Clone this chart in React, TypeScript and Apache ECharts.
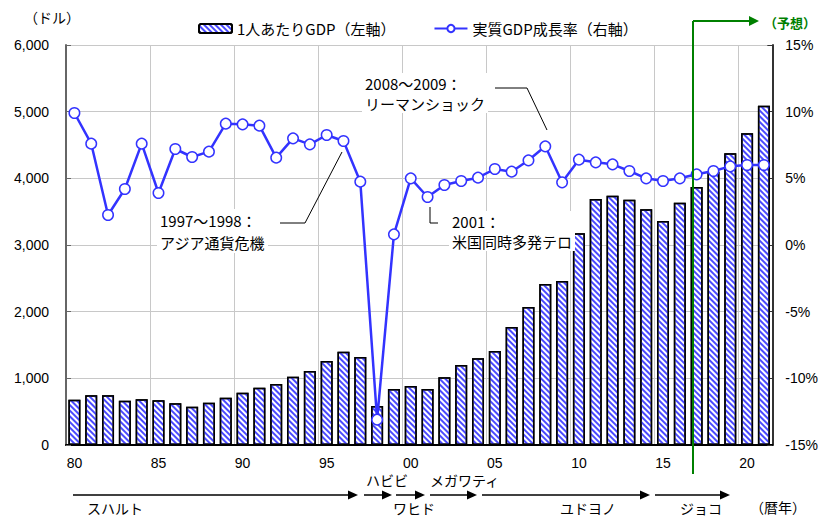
import React, { useEffect, useRef } from "react";
import * as echarts from "echarts";

const years: number[] = [];
for (let y = 1980; y <= 2021; y++) years.push(y);

const gdpPerCapita = [
  680, 745, 745, 665, 685, 670, 625, 575, 635, 710,
  785, 860, 915, 1025, 1110, 1260, 1400, 1320, 585, 840,
  885, 840, 1015, 1200, 1300, 1410, 1770, 2070, 2415, 2460,
  3175, 3690, 3740, 3680, 3535, 3360, 3635, 3870, 4100, 4375,
  4675, 5090,
];

const growthRate = [
  9.9, 7.6, 2.25, 4.2, 7.6, 3.9, 7.2, 6.6, 7.0, 9.1,
  9.05, 8.95, 6.55, 8.0, 7.55, 8.25, 7.8, 4.75, -13.1, 0.8,
  5.0, 3.6, 4.5, 4.8, 5.05, 5.7, 5.5, 6.35, 7.4, 4.7,
  6.4, 6.2, 6.05, 5.55, 5.0, 4.8, 5.0, 5.3, 5.55, 5.9,
  6.0, 6.0,
];

const leftTicks = [0, 6000, 1000];
const rightTicks = [-15, 15, 5];

const barName = "1人あたりGDP（左軸）";
const lineName = "実質GDP成長率（右軸）";

const JP = "'Noto Sans CJK JP', sans-serif";
const NUM = "'Liberation Sans', Arial, sans-serif";

function arrow(x1: number, x2: number, y: number) {
  return [
    { type: "line", shape: { x1, y1: y, x2: x2 - 9, y2: y }, style: { stroke: "#000", lineWidth: 1.5 } },
    { type: "polygon", shape: { points: [[x2 - 10, y - 4.5], [x2, y], [x2 - 10, y + 4.5]] }, style: { fill: "#000" } },
  ];
}

function label(text: string, x: number, y: number, extra: any = {}) {
  return {
    type: "text",
    x,
    y,
    style: { text, font: `14px ${JP}`, fill: "#000", verticalAlign: "middle", ...extra },
  };
}

export default function App() {
  const ref = useRef<HTMLDivElement>(null);
  useEffect(() => {
    if (!ref.current) return;
    const chart = echarts.init(ref.current, undefined, { renderer: "svg" });
    const option: any = {
      animation: false,
      backgroundColor: "#fff",
      legend: {
        left: 193,
        top: 16,
        itemGap: 38,
        itemWidth: 33,
        itemHeight: 9,
        textStyle: { fontSize: 15, fontFamily: JP, color: "#000" },
        data: [barName, lineName],
      },
      grid: { left: 66, right: 44, top: 45, bottom: 76 },
      xAxis: {
        type: "category",
        data: years.map(String),
        boundaryGap: true,
        axisLine: { lineStyle: { color: "#000", width: 2 } },
        axisTick: { show: false, interval: 4 },
        axisLabel: {
          interval: 4,
          margin: 11,
          fontSize: 14,
          fontFamily: NUM,
          color: "#000",
          formatter: (v: string) => v.slice(2),
        },
        splitLine: { show: true, interval: 4, lineStyle: { color: "#c8c8c8", width: 1 } },
      },
      yAxis: [
        {
          type: "value",
          min: leftTicks[0],
          max: leftTicks[1],
          interval: leftTicks[2],
          axisLine: { show: true, lineStyle: { color: "#666", width: 2 } },
          axisTick: { show: true, inside: true, length: 5, lineStyle: { color: "#666" } },
          axisLabel: {
            margin: 17,
            fontSize: 14,
            fontFamily: NUM,
            color: "#000",
            formatter: (v: number) => v.toLocaleString("en-US"),
          },
          splitLine: { show: true, lineStyle: { color: "#c8c8c8", width: 1 } },
        },
        {
          type: "value",
          min: rightTicks[0],
          max: rightTicks[1],
          interval: rightTicks[2],
          position: "right",
          axisLine: { show: true, lineStyle: { color: "#333", width: 2 } },
          axisTick: { show: true, inside: true, length: 5, lineStyle: { color: "#333" } },
          axisLabel: {
            margin: 13,
            fontSize: 14,
            fontFamily: NUM,
            color: "#000",
            formatter: (v: number) => `${v}%`,
          },
          splitLine: { show: false },
        },
      ],
      series: [
        {
          name: barName,
          type: "bar",
          yAxisIndex: 0,
          data: gdpPerCapita,
          barWidth: 12,
          itemStyle: {
            color: "#ffffff",
            borderColor: "#000",
            borderWidth: 1.5,
            decal: {
              symbol: "rect",
              color: "#4a4aff",
              dashArrayX: [1, 0],
              dashArrayY: [1.5, 1.9],
              rotation: Math.PI / 4,
            },
          },
          z: 2,
        },
        {
          name: lineName,
          type: "line",
          yAxisIndex: 1,
          data: growthRate,
          symbol: "circle",
          symbolSize: 10.5,
          lineStyle: { color: "#3333ff", width: 2.5 },
          itemStyle: { color: "#fff", borderColor: "#3333ff", borderWidth: 1.5 },
          z: 5,
        },
      ],
      graphic: [
        label("（ドル）", 24, 17),
        // forecast marker
        { type: "line", shape: { x1: 693, y1: 21, x2: 693, y2: 474 }, style: { stroke: "#008000", lineWidth: 2 }, z: 10 },
        { type: "line", shape: { x1: 693, y1: 21, x2: 750, y2: 21 }, style: { stroke: "#008000", lineWidth: 2 }, z: 10 },
        { type: "polygon", shape: { points: [[749, 16], [759, 21], [749, 26]] }, style: { fill: "#008000" }, z: 10 },
        label("（予想）", 764, 22, { font: `bold 13px ${JP}`, fill: "#008000" }),
        // annotations
        {
          type: "polyline",
          shape: { points: [[280, 223], [305, 223], [342, 152]] },
          style: { stroke: "#000", lineWidth: 1, fill: null },
          z: 6,
        },
        {
          type: "text",
          x: 157,
          y: 209,
          z: 7,
          style: {
            text: "1997〜1998：\nアジア通貨危機",
            font: `15px ${JP}`,
            lineHeight: 22,
            fill: "#000",
            backgroundColor: "#fff",
            padding: [0, 3, 0, 3],
          },
        },
        {
          type: "polyline",
          shape: { points: [[495, 88], [527, 88], [547, 130]] },
          style: { stroke: "#000", lineWidth: 1, fill: null },
          z: 6,
        },
        {
          type: "text",
          x: 362,
          y: 73,
          z: 7,
          style: {
            text: "2008〜2009：\nリーマンショック",
            font: `15px ${JP}`,
            lineHeight: 20,
            fill: "#000",
            backgroundColor: "#fff",
            padding: [0, 3, 0, 3],
          },
        },
        {
          type: "polyline",
          shape: { points: [[430, 207], [430, 223], [438, 223]] },
          style: { stroke: "#000", lineWidth: 1, fill: null },
          z: 6,
        },
        {
          type: "text",
          x: 449,
          y: 211,
          z: 7,
          style: {
            text: "2001：\n米国同時多発テロ",
            font: `15px ${JP}`,
            lineHeight: 20,
            fill: "#000",
            backgroundColor: "#fff",
            padding: [0, 3, 0, 3],
          },
        },
        // presidents
        ...arrow(73, 358, 495),
        ...arrow(364, 392, 495),
        ...arrow(396, 425, 495),
        ...arrow(430, 477, 495),
        ...arrow(482, 650, 495),
        ...arrow(655, 730, 495),
        label("スハルト", 87, 508),
        label("ハビビ", 366, 480),
        label("ワヒド", 393, 508),
        label("メガワティ", 430, 480),
        label("ユドヨノ", 560, 508),
        label("ジョコ", 680, 508),
        label("（暦年）", 750, 507),
      ],
    };
    chart.setOption(option);
    return () => chart.dispose();
  }, []);
  return (
    <div
      ref={ref}
      style={{ position: "fixed", left: 0, top: 0, width: 821, height: 521 }}
    />
  );
}
